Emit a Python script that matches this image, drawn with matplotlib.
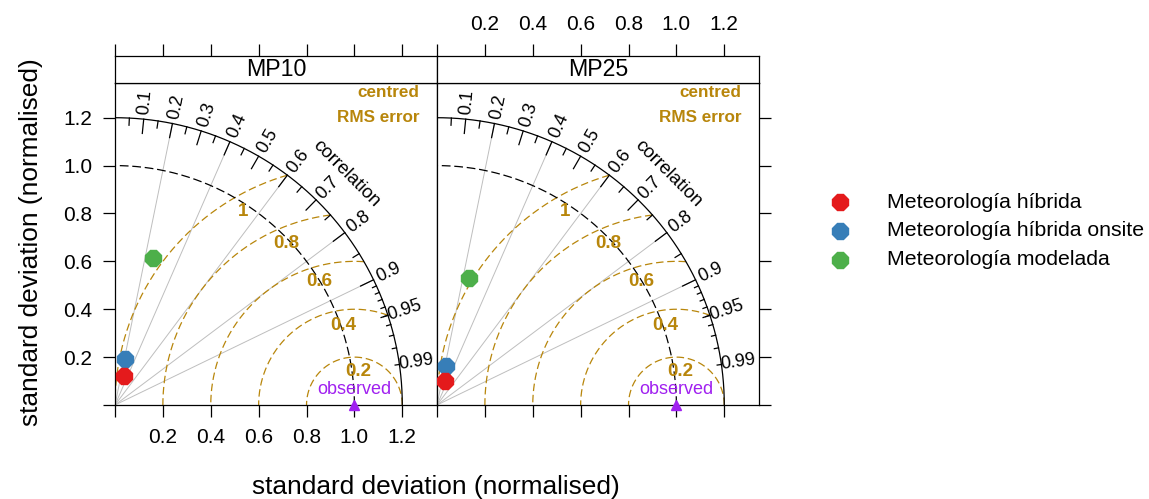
import numpy as np
import matplotlib.pyplot as plt
from matplotlib.lines import Line2D

plt.rcParams['font.family'] = ['Liberation Sans', 'DejaVu Sans']

pollutants = ['MP10', 'MP25']
models = ['Meteorología híbrida', 'Meteorología híbrida onsite', 'Meteorología modelada']
model_colors = ['#E41A1C', '#377EB8', '#4DAF4A']

# normalised standard deviation and correlation for each model
sd_mp10 = [0.125, 0.197, 0.633]
cor_mp10 = [0.300, 0.212, 0.253]
sd_mp25 = [0.107, 0.168, 0.545]
cor_mp25 = [0.310, 0.223, 0.244]

obs_sd = 1.0
max_sd = 1.2
rms_levels = [0.2, 0.4, 0.6, 0.8, 1.0]
cor_ticklabels = [0.1, 0.2, 0.3, 0.4, 0.5, 0.6, 0.7, 0.8, 0.9, 0.95, 0.99]
cor_gridlines = [0.2, 0.4, 0.6, 0.8, 0.9]
sd_ticks = [0, 0.2, 0.4, 0.6, 0.8, 1.0, 1.2]
sd_ticklabels = ['', '0.2', '0.4', '0.6', '0.8', '1.0', '1.2']

RMS_COL = '#B8860B'
OBS_COL = '#A020F0'
LIM = 1.345

fig = plt.figure(figsize=(11.49, 4.99), dpi=100)
W, H = 1149, 499


def px_axes(x0, y0, w, h):
    return fig.add_axes([x0 / W, (H - y0 - h) / H, w / W, h / H])


def taylor_panel(ax, sd, cor):
    ax.set_xlim(0, LIM)
    ax.set_ylim(0, LIM)

    # correlation rays
    for c in cor_gridlines:
        a = np.arccos(c)
        ax.plot([0, max_sd * np.cos(a)], [0, max_sd * np.sin(a)], color='#BEBEBE', lw=0.7, zorder=1)

    # outer arc with correlation ticks
    t = np.linspace(0, np.pi / 2, 300)
    ax.plot(max_sd * np.cos(t), max_sd * np.sin(t), color='black', lw=0.9, zorder=2)
    for vals, frac in [(np.arange(0.1, 0.91, 0.1), 0.95),
                       (np.arange(0.05, 0.96, 0.1), 0.975),
                       (np.arange(0.91, 0.995, 0.01), 0.985)]:
        a = np.arccos(vals)
        for ai in a:
            ax.plot([max_sd * np.cos(ai), frac * max_sd * np.cos(ai)],
                    [max_sd * np.sin(ai), frac * max_sd * np.sin(ai)],
                    color='black', lw=0.9, zorder=2)
    for c in cor_ticklabels:
        a = np.arccos(c)
        ax.text(1.06 * max_sd * np.cos(a), 1.06 * max_sd * np.sin(a), str(c),
                rotation=np.degrees(a), ha='center', va='center', fontsize=13,
                rotation_mode='anchor', zorder=3)
    ax.text(1.14 * max_sd * np.cos(np.pi / 4), 1.14 * max_sd * np.sin(np.pi / 4), 'correlation',
            rotation=-45, ha='center', va='center', fontsize=13.5, rotation_mode='anchor', zorder=3)

    # observed standard deviation arc
    ax.plot(obs_sd * np.cos(t), obs_sd * np.sin(t), color='black', lw=0.9,
            linestyle=(0, (7, 3)), zorder=2)

    # centred RMS error arcs around the observed point
    for r in rms_levels:
        cmax = min(1.0, (max_sd ** 2 - obs_sd ** 2 - r ** 2) / (2 * obs_sd * r))
        th = np.linspace(np.arccos(cmax), np.pi, 200)
        ax.plot(obs_sd + r * np.cos(th), r * np.sin(th), color=RMS_COL, lw=0.9,
                linestyle=(0, (6, 3)), zorder=1)
        xi = obs_sd - r ** 2 / (2 * obs_sd)
        yi = np.sqrt(obs_sd ** 2 - xi ** 2)
        ax.annotate('%g' % r, (xi, yi), xytext=(6, -10), textcoords='offset points',
                    ha='center', va='center', color=RMS_COL, fontsize=13.5,
                    fontweight='bold', zorder=3)
    ax.text(1.27, 1.305, 'centred', color=RMS_COL, fontsize=12.3, fontweight='bold',
            ha='right', va='center')
    ax.text(1.27, 1.2, 'RMS error', color=RMS_COL, fontsize=12.3, fontweight='bold',
            ha='right', va='center')

    # observed point
    ax.plot([obs_sd], [0], marker='^', color=OBS_COL, ms=7, clip_on=False, zorder=4)
    ax.text(obs_sd, 0.065, 'observed', color=OBS_COL, fontsize=13, ha='center', va='center', zorder=4)

    # models, red drawn last
    for s, c, col in list(zip(sd, cor, model_colors))[::-1]:
        a = np.arccos(c)
        ax.plot([s * np.cos(a)], [s * np.sin(a)], marker='8', ms=13, color=col,
                linestyle='none', zorder=5)

    ax.set_xticks(sd_ticks)
    ax.set_yticks(sd_ticks)
    ax.tick_params(direction='out', length=8.5, width=0.9, labelsize=15, pad=8)
    for sp in ax.spines.values():
        sp.set_linewidth(0.9)


panels = []
for i, (name, sd, cor) in enumerate([('MP10', sd_mp10, cor_mp10), ('MP25', sd_mp25, cor_mp25)]):
    x0 = 115 + i * 322
    ax = px_axes(x0, 83, 322, 322)
    taylor_panel(ax, sd, cor)
    st = px_axes(x0, 56, 322, 27)
    st.set_xlim(0, LIM)
    st.set_xticks(sd_ticks)
    st.set_yticks([])
    st.text(0.5, 0.5, name, transform=st.transAxes, ha='center', va='center', fontsize=16.7)
    st.tick_params(axis='x', direction='out', length=8.5, width=0.9, labelsize=15, pad=7,
                   bottom=False, labelbottom=False, top=True, labeltop=(i == 1))
    st.set_xticklabels(sd_ticklabels)
    for sp in st.spines.values():
        sp.set_linewidth(0.9)
    panels.append(ax)

p1, p2 = panels
p1.set_xticklabels(sd_ticklabels)
p1.set_yticklabels(sd_ticklabels)
p1.tick_params(right=False)
p2.tick_params(left=False, labelleft=False, labelbottom=False, right=True)

fig.text(31 / W, 1 - 242 / H, 'standard deviation (normalised)', rotation=90,
         ha='center', va='center', fontsize=18.9)
fig.text(436 / W, 1 - 487 / H, 'standard deviation (normalised)',
         ha='center', va='center', fontsize=18.9)

# legend
for k, (lab, col) in enumerate(zip(models, model_colors)):
    y = 1 - (202 + 28.8 * k) / H
    fig.add_artist(Line2D([840 / W], [y], marker='8', ms=13, color=col,
                          linestyle='none', transform=fig.transFigure))
    fig.text(887 / W, y, lab, ha='left', va='center', fontsize=15.3)

fig.savefig('out.png', dpi=100)
